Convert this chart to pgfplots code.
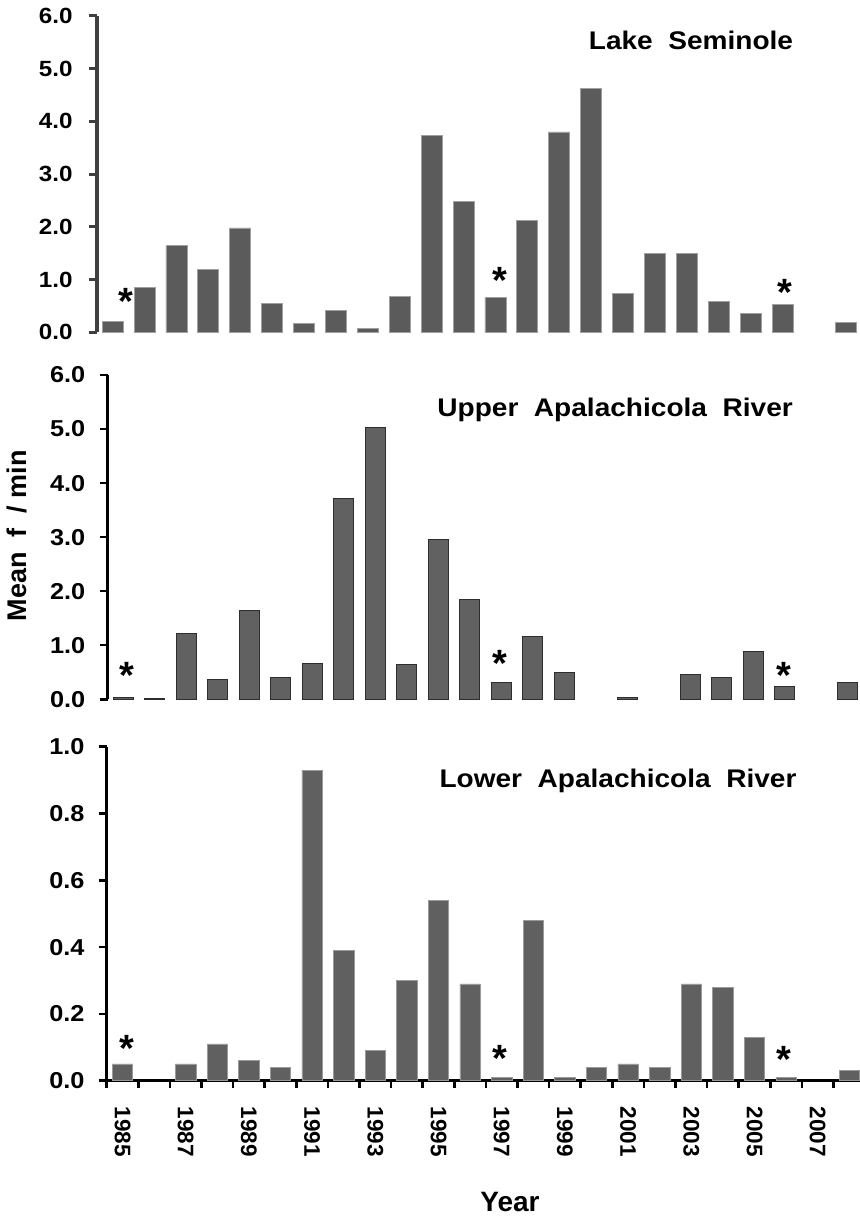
\documentclass[border=0pt]{standalone}
\usepackage{pgfplots}
\pgfplotsset{compat=1.18}
\usepackage{fontspec}
\setmainfont{Liberation Sans}
\newfontfamily\stretchfont{Liberation Sans}[FakeStretch=1.1]

\definecolor{topfill}{HTML}{5B5B5B}
\definecolor{topedge}{HTML}{A0A0A0}
\definecolor{midfill}{HTML}{616161}
\definecolor{midedge}{HTML}{2E2E2E}
\definecolor{botfill}{HTML}{606060}
\definecolor{botedge}{HTML}{9A9A9A}
\definecolor{topaxis}{HTML}{404040}

\pgfplotstableread{
x y
0 0.20
1 0.85
2 1.64
3 1.20
4 1.98
5 0.55
6 0.16
7 0.42
8 0.08
9 0.68
10 3.73
11 2.49
12 0.66
13 2.12
14 3.80
15 4.62
16 0.73
17 1.50
18 1.50
19 0.59
20 0.36
21 0.53
23 0.18
}\lakedata

\pgfplotstableread{
x y
0 0.04
1 0.02
2 1.21
3 0.36
4 1.65
5 0.41
6 0.66
7 3.72
8 5.03
9 0.65
10 2.96
11 1.85
12 0.31
13 1.17
14 0.49
16 0.03
18 0.45
19 0.41
20 0.89
21 0.23
23 0.31
}\upperdata

\pgfplotstableread{
x y
0 0.05
2 0.05
3 0.11
4 0.06
5 0.04
6 0.93
7 0.39
8 0.09
9 0.30
10 0.54
11 0.29
12 0.01
13 0.48
14 0.01
15 0.04
16 0.05
17 0.04
18 0.29
19 0.28
20 0.13
21 0.01
23 0.03
}\lowerdata

\tikzset{aster/.style={inner sep=0pt, anchor=north, font=\bfseries\fontsize{38}{38}\selectfont}}
\newcommand\ttlfont{\stretchfont\bfseries\fontsize{25.5}{25.5}\selectfont}

\begin{document}
\begin{tikzpicture}[x=1pt,y=1pt]
\useasboundingbox (0,0) rectangle (859,1217);

% ---------------- Lake Seminole ----------------
\begin{axis}[
  scale only axis, anchor=south west, at={(96.7pt,884.7pt)},
  width=765.6pt, height=316.3pt,
  xmin=-0.5, xmax=23.5, ymin=0, ymax=6,
  axis x line=none, axis y line*=left,
  y axis line style={line width=4pt, color=topaxis},
  ytick={0,1,...,6},
  yticklabels={0.0,1.0,2.0,3.0,4.0,5.0,6.0},
  ytick style={line width=3pt, color=topaxis},
  tick align=outside, major tick length=8pt,
  yticklabel shift=16pt,
  yticklabel style={font=\stretchfont\bfseries\fontsize{22}{22}\selectfont, anchor=east, inner sep=0pt},
  ybar, bar width=0.66, bar shift=0pt,
  clip=false,
]
\addplot[fill=topfill, draw=topedge, line width=0.8pt] table[x=x,y=y]{\lakedata};
\node[aster] at (axis cs:0.43,0.835) {*};
\node[aster] at (axis cs:12.15,1.244) {*};
\node[aster] at (axis cs:21.08,1.005) {*};
\end{axis}
\node[anchor=base east, inner sep=0pt, font=\ttlfont] at (793.3,1167.7) {Lake~~Seminole};

% ---------------- Upper Apalachicola ----------------
\begin{axis}[
  scale only axis, anchor=south west, at={(107.5pt,517.7pt)},
  width=756pt, height=324.3pt,
  xmin=-0.5, xmax=23.5, ymin=0, ymax=6,
  axis x line=none, axis y line*=left,
  y axis line style={line width=2.5pt, color=black},
  ytick={0,1,...,6},
  yticklabels={0.0,1.0,2.0,3.0,4.0,5.0,6.0},
  ytick style={line width=2.5pt, color=black},
  tick align=outside, major tick length=8pt,
  yticklabel shift=14pt,
  yticklabel style={font=\stretchfont\bfseries\fontsize{23}{23}\selectfont, anchor=east, inner sep=0pt},
  ybar, bar width=0.635, bar shift=0pt,
  clip=false,
]
\addplot[fill=midfill, draw=midedge, line width=1pt] table[x=x,y=y]{\upperdata};
\node[aster] at (axis cs:0.11,0.696) {*};
\node[aster] at (axis cs:11.95,0.912) {*};
\node[aster] at (axis cs:20.98,0.696) {*};
\end{axis}
\node[anchor=base east, inner sep=0pt, font=\ttlfont] at (793,800.3) {Upper~~Apalachicola~~River};

% ---------------- Lower Apalachicola ----------------
\begin{axis}[
  scale only axis, anchor=south west, at={(106.7pt,136.3pt)},
  width=758.4pt, height=334pt,
  xmin=-0.5, xmax=23.5, ymin=0, ymax=1,
  axis x line*=bottom, axis y line*=left,
  axis line style={line width=2.5pt, color=black},
  ytick={0,0.2,...,1.0},
  yticklabels={0.0,0.2,0.4,0.6,0.8,1.0},
  ytick style={line width=2.5pt, color=black},
  xtick={0,2,...,22},
  xticklabels={1985,1987,1989,1991,1993,1995,1997,1999,2001,2003,2005,2007},
  minor xtick={-0.5,0.5,...,23.5},
  every major x tick/.append style={draw=none},
  every minor x tick/.append style={line width=2.5pt, color=black},
  tick align=outside, major tick length=8pt, minor tick length=7pt,
  yticklabel shift=14pt,
  xticklabel shift=18pt,
  yticklabel style={font=\stretchfont\bfseries\fontsize{23}{23}\selectfont, anchor=east, inner sep=0pt},
  xticklabel style={font=\bfseries\fontsize{22.5}{22.5}\selectfont, rotate=-90, anchor=west, inner sep=0pt},
  ybar, bar width=0.65, bar shift=0pt,
  clip=false,
]
\addplot[fill=botfill, draw=botedge, line width=0.6pt] table[x=x,y=y]{\lowerdata};
\node[aster] at (axis cs:0.13,0.137) {*};
\node[aster] at (axis cs:11.94,0.107) {*};
\node[aster] at (axis cs:20.94,0.102) {*};
\end{axis}
\node[anchor=base east, inner sep=0pt, font=\ttlfont] at (796.7,429.7) {Lower~~Apalachicola~~River};

\node[anchor=base, rotate=90, inner sep=0pt, font=\bfseries\fontsize{27}{27}\selectfont] at (26,681.1) {Mean~~f~~/~min};
\node[anchor=base, inner sep=0pt, font=\bfseries\fontsize{28}{28}\selectfont] at (510,5.3) {Year};
\end{tikzpicture}
\end{document}
